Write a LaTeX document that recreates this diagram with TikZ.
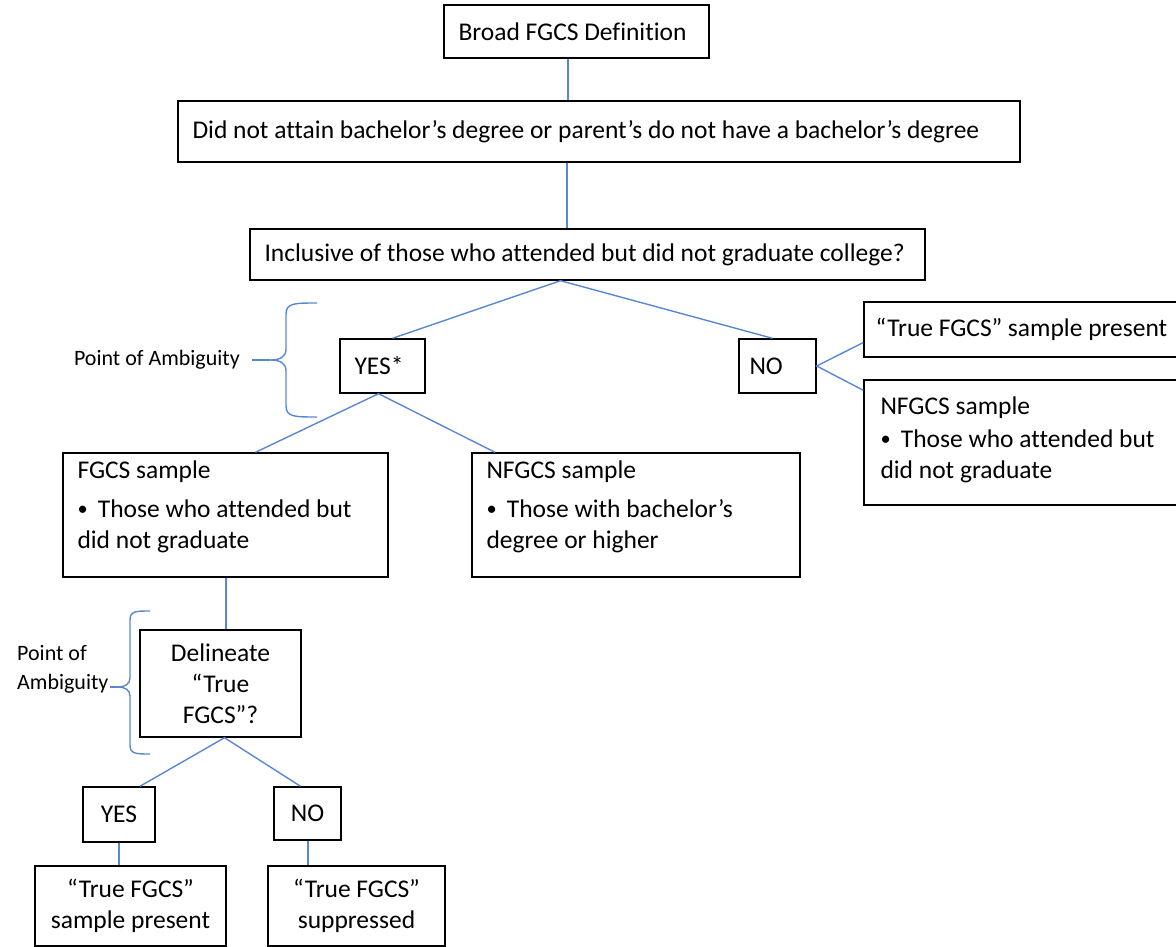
\documentclass[tikz,border=0pt]{standalone}
\usepackage{fontspec}
\setmainfont{Carlito}[Ligatures=NoCommon]
\usetikzlibrary{calc}
\definecolor{linkblue}{RGB}{90,135,212}
\tikzset{
  box/.style={draw=black, line width=1.4pt, inner sep=0pt},
  txt/.style={inner sep=0pt, align=left, font=\fontsize{25.5}{31}\selectfont},
  ctxt/.style={draw=black, line width=1.4pt, inner sep=0pt, align=center,
               font=\fontsize{25.5}{31}\selectfont},
  link/.style={draw=linkblue, line width=1.4pt},
  amb/.style={inner sep=0pt, align=left, font=\fontsize{22}{29}\selectfont},
}
\newcommand\bul{\makebox[0.8em][l]{\raisebox{0.05em}{\scalebox{0.8}{•}}}}
\begin{document}
\begin{tikzpicture}[x=1pt,y=-1pt]
\useasboundingbox (0,0) rectangle (1176,947);

% --- boxes -------------------------------------------------------------
\node[box, minimum width=265pt, minimum height=53pt] (broad) at (576.5,31.5) {};
\node[txt, anchor=west] (broad-t) at ([xshift=15pt]broad.west) {Broad FGCS Definition};

\node[box, minimum width=842pt, minimum height=61pt] (attain) at (599,131.5) {};
\node[txt, anchor=west] (attain-t) at ([xshift=15pt]attain.west)
  {Did not attain bachelor’s degree or parent’s do not have a bachelor’s degree};

\node[box, minimum width=675pt, minimum height=51pt] (incl) at (587.5,254.5) {};
\node[txt, anchor=west] (incl-t) at ([xshift=15pt]incl.west)
  {Inclusive of those who attended but did not graduate college?};

\node[box, minimum width=85pt, minimum height=54pt] (yesA) at (382.5,366) {};
\node[txt, anchor=west] (yesA-t) at ([xshift=15pt]yesA.west) {YES*};

\node[box, minimum width=77pt, minimum height=54pt] (noA) at (777.5,366) {};
\node[txt, anchor=west] (noA-t) at ([xshift=11pt]noA.west) {NO};

\node[box, minimum width=316pt, minimum height=55pt] (tpres) at (1022,329.5) {};
\node[txt, anchor=west] (tpres-t) at ([xshift=12pt]tpres.west) {“True FGCS” sample present};

\node[box, minimum width=316pt, minimum height=125pt] (nfgR) at (1022,442.5) {};
\node[txt, anchor=north west] (nfgR-t) at ([xshift=17pt,yshift=-17pt]nfgR.north west)
  {NFGCS sample\\[2pt]\bul Those who attended but\\did not graduate};

\node[box, minimum width=325pt, minimum height=124pt] (fgcs) at (225.5,515) {};
\node[txt, anchor=north west] (fgcs-t) at ([xshift=15pt,yshift=-8pt]fgcs.north west)
  {FGCS sample\\[8pt]\bul Those who attended but\\did not graduate};

\node[box, minimum width=328pt, minimum height=124pt] (nfgM) at (636,515) {};
\node[txt, anchor=north west] (nfgM-t) at ([xshift=15pt,yshift=-8pt]nfgM.north west)
  {NFGCS sample\\[8pt]\bul Those with bachelor’s\\degree or higher};

\node[ctxt, minimum width=161pt, minimum height=107pt] (delin) at (220.5,683.5)
  {Delineate\\“True\\FGCS”?};

\node[box, minimum width=72pt, minimum height=55pt] (yesB) at (119,814.5) {};
\node[txt] (yesB-t) at (yesB.center) {YES};

\node[box, minimum width=67pt, minimum height=53pt] (noB) at (307.5,813.5) {};
\node[txt] (noB-t) at (noB.center) {NO};

\node[ctxt, minimum width=191pt, minimum height=80pt] (tpB) at (130.5,906)
  {“True FGCS”\\sample present};
\node[ctxt, minimum width=177pt, minimum height=80pt] (supp) at (356.5,906)
  {“True FGCS”\\suppressed};

% --- connectors --------------------------------------------------------
\draw[link] ([xshift=-8.5pt]broad.south) -- ([xshift=-8.5pt]broad.south |- attain.north);
\draw[link] ([xshift=-32pt]attain.south) -- ([xshift=-32pt]attain.south |- incl.north);
\draw[link] ([xshift=10pt]yesA.north) -- ([xshift=-27pt]incl.south)
            -- ([xshift=-5pt]noA.north);
\draw[link] ([xshift=30pt]fgcs.north) -- ([xshift=-4pt]yesA.south)
            -- ([xshift=-141pt]nfgM.north);
\draw[link] ([yshift=-13pt]tpres.west) -- (noA.east)
            -- ([yshift=-11pt]nfgR.north west);
\draw[link] ([xshift=0.5pt]fgcs.south) -- ([xshift=0.5pt]fgcs.south |- delin.north);
\draw[link] ([xshift=21pt]yesB.north) -- ([xshift=4pt]delin.south)
            -- ([xshift=-7pt]noB.north);
\draw[link] (yesB.south) -- (yesB.south |- tpB.north);
\draw[link] ([xshift=0.5pt]noB.south) -- ([xshift=0.5pt]noB.south |- supp.north);

% --- braces and their labels -------------------------------------------
\coordinate (tip1) at (270,360);
\draw[link] (317,303) .. controls (295,303) and (286,303) .. (286,314)
  -- (286,349) .. controls (286,357) and (280,360) .. (tip1)
  .. controls (280,360) and (286,363) .. (286,371)
  -- (286,406) .. controls (286,417) and (295,417) .. (317,417);
\node[amb, anchor=east] (amb1) at (240,360) {Point of Ambiguity};
\draw[link] ([xshift=12pt]amb1.east) -- (tip1);

\coordinate (tip2) at (118,687);
\draw[link] (150,611) .. controls (136,611) and (130,611) .. (130,620)
  -- (130,678) .. controls (130,684) and (125,687) .. (tip2)
  .. controls (125,687) and (130,690) .. (130,696)
  -- (130,745) .. controls (130,754) and (136,754) .. (150,754);
\node[amb, anchor=north west] (amb2) at (17,645) {Point of\\Ambiguity};
\draw[link] ([xshift=1pt]amb2.east |- tip2) -- (tip2);
\end{tikzpicture}
\end{document}
